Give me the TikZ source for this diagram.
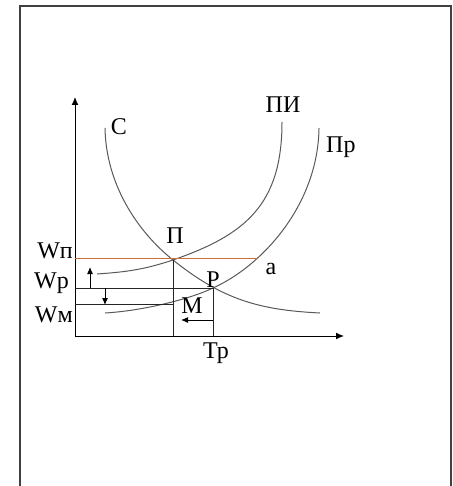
\documentclass[tikz,border=0pt]{standalone}
\usepackage{fontspec}
\setmainfont{Liberation Serif}
\usetikzlibrary{arrows.meta}
\definecolor{wageline}{RGB}{205,110,55}

\begin{document}
\begin{tikzpicture}[x=1pt, y=-1pt,
  every node/.style={font=\fontsize{24}{28}\selectfont, inner sep=0pt, anchor=base},
  curve/.style={gray!70!black, line width=1pt},
  guide/.style={black!85, line width=1pt},
  axis/.style={black, line width=1pt, -{Latex[length=8pt,width=7pt]}},
  moveArrow/.style={black, line width=1pt, -{Latex[length=7pt,width=6pt]}}]
  \useasboundingbox (0,0) rectangle (452,486);
  \draw[black!75, line width=1.2pt] (20,486) -- (20,6) -- (451,6) -- (451,486);
  % axes
  \coordinate (O) at (75,336);
  \coordinate (yEnd) at (75,97);
  \coordinate (xEnd) at (344,336);
  \draw[axis] (O) -- (yEnd);
  \draw[axis] (O) -- (xEnd);
  % points
  \coordinate (ptP) at (173,260);
  \coordinate (ptR) at (213,288);
  \coordinate (ptM) at (173,304);
  \coordinate (aEnd) at (258,258);
  % curves
  \draw[curve] (105,128) .. controls (106,185) and (138,232) .. (ptP)
                         .. controls (223,300) and (260,310) .. (320,313);
  \draw[curve] (97,274) .. controls (125,272) and (143,270) .. (ptP)
                        .. controls (245,235) and (282,205) .. (282,122);
  \draw[curve] (105,313) .. controls (140,311) and (188,300) .. (ptR)
                         .. controls (262,266) and (318,205) .. (319,128);
  % levels
  \draw[line width=1pt, wageline] (O |- aEnd) -- (aEnd);
  \draw[guide] (O |- ptR) -- (ptR) -- (ptR |- O);
  \draw[guide] (O |- ptM) -- (ptM);
  \draw[guide] (ptP) -- (ptP |- O);
  % shifts
  \coordinate (upA) at (90,288);
  \coordinate (upB) at (90,267);
  \coordinate (dnA) at (105,288);
  \coordinate (dnB) at (105,305);
  \coordinate (lfA) at (213,320);
  \coordinate (lfB) at (181,320);
  \draw[moveArrow] (upA) -- (upB);
  \draw[moveArrow] (dnA) -- (dnB);
  \draw[moveArrow] (lfA) -- (lfB);
  % labels
  \node (lblC) at (119,135) {С};
  \node (lblPI) at (283,113) {ПИ};
  \node[anchor=base west] (lblPr) at (326,153) {Пр};
  \node (lblP) at (175,243) {П};
  \node (lblR) at (213,287) {Р};
  \node (lblM) at (192,313) {М};
  \node (lblA) at (271,274) {а};
  \node[anchor=base east] (lblWp) at (73,258) {Wп};
  \node[anchor=base east] (lblWr) at (69,288) {Wр};
  \node[anchor=base east] (lblWm) at (73,322) {Wм};
  \node[anchor=base west] (lblTr) at (203,358) {Тр};
\end{tikzpicture}
\end{document}
